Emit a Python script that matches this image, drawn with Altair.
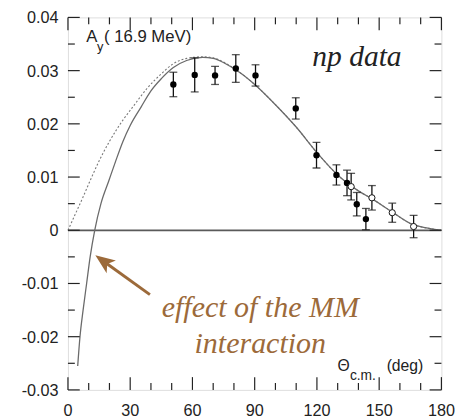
import altair as alt
import pandas as pd

# ---- data ----
filled_angle = [50.8, 61.1, 70.9, 80.9, 90.4, 109.8, 119.8, 129.4, 134.5, 139.2, 143.6]
filled_ay = [0.0274, 0.0292, 0.0291, 0.0304, 0.0291, 0.0229, 0.0141, 0.0104, 0.0089, 0.0049, 0.0021]
filled_err = [0.0023, 0.0032, 0.0017, 0.0026, 0.0020, 0.0020, 0.0024, 0.0019, 0.0024, 0.0022, 0.0020]

open_angle = [136.5, 146.5, 156.3, 166.6]
open_ay = [0.0082, 0.0061, 0.0033, 0.0007]
open_err = [0.0025, 0.0023, 0.0018, 0.0021]

solid_x = [4.7, 5.8, 7.3, 9.0, 10.7, 12.9, 15.9, 19.7, 23, 26.5, 30, 35.3, 40, 45, 50.8, 57.2,
           65, 70, 76, 83, 90, 100, 110, 120, 130, 140, 147, 156, 166, 172, 180]
solid_y = [-0.0255, -0.020, -0.015, -0.010, -0.005, 0.0, 0.005, 0.0093, 0.0130, 0.0167, 0.0197,
           0.0232, 0.0262, 0.0285, 0.0306, 0.0319, 0.0325, 0.0323, 0.0313, 0.0296, 0.0274, 0.0236,
           0.0194, 0.0146, 0.0104, 0.0074, 0.0058, 0.0035, 0.0011, 0.0005, 0.0]

dash_x = [0, 3.5, 7, 11, 15, 20, 26.5, 31.5, 38, 45, 50.8, 57.2, 65, 70, 76, 83,
          90, 100, 110, 120, 130, 140, 147, 156, 166, 172, 180]
dash_y = [0.0, 0.0030, 0.0060, 0.0096, 0.0130, 0.0167, 0.0207, 0.0233, 0.0266, 0.0294, 0.0313,
          0.0323, 0.0326, 0.0324, 0.0314, 0.0296, 0.0274, 0.0236, 0.0194, 0.0146, 0.0104, 0.0074,
          0.0058, 0.0035, 0.0011, 0.0005, 0.0]

x_major = [0, 30, 60, 90, 120, 150, 180]
x_minor = [10, 20, 40, 50, 70, 80, 100, 110, 130, 140, 160, 170]
y_major = [-0.03, -0.02, -0.01, 0.0, 0.01, 0.02, 0.03, 0.04]
y_minor = [-0.025, -0.015, -0.005, 0.005, 0.015, 0.025, 0.035]
x_labels = ["0", "30", "60", "90", "120", "150", "180"]
y_labels = ["-0.03", "-0.02", "-0.01", "0", "0.01", "0.02", "0.03", "0.04"]

# annotation anchors (data coordinates)
arrow_tail = (39.5, -0.0121)
arrow_head = (13.2, -0.0047)

W, H = 380, 379
BROWN = "#9c6a3a"
INK = "#222222"
xs = alt.Scale(domain=[0, 180], nice=False, zero=False)
ys = alt.Scale(domain=[-0.03, 0.04], nice=False, zero=False)

filled = pd.DataFrame({"x": filled_angle, "y": filled_ay,
                       "lo": [a - e for a, e in zip(filled_ay, filled_err)],
                       "hi": [a + e for a, e in zip(filled_ay, filled_err)]})
opened = pd.DataFrame({"x": open_angle, "y": open_ay,
                       "lo": [a - e for a, e in zip(open_ay, open_err)],
                       "hi": [a + e for a, e in zip(open_ay, open_err)]})
points = pd.concat([filled, opened], ignore_index=True)

X = lambda f="x": alt.X(f"{f}:Q", scale=xs, axis=None)
Y = lambda f="y": alt.Y(f"{f}:Q", scale=ys, axis=None)

zero_line = alt.Chart(pd.DataFrame({"y": [0.0]})).mark_rule(color="#5a5a5a", strokeWidth=1.8).encode(
    x=alt.value(0), x2=alt.value(W), y=Y())

# tick labels drawn as text through the scales
xlab = alt.Chart(pd.DataFrame({"x": x_major, "t": x_labels})).mark_text(
    font="Liberation Sans", fontSize=16.5, color=INK, align="center", baseline="alphabetic").encode(
    x=X(), y=alt.value(H + 27), text="t:N")
ylab = alt.Chart(pd.DataFrame({"y": y_major, "t": y_labels})).mark_text(
    font="Liberation Sans", fontSize=16.5, color=INK, align="right", baseline="middle", dy=1).encode(
    y=Y(), x=alt.value(-9.5), text="t:N")

solid = alt.Chart(pd.DataFrame({"x": solid_x, "y": solid_y})).mark_line(
    color="#6a6a6a", strokeWidth=1.3, interpolate="monotone").encode(x=X(), y=Y())
dashed = alt.Chart(pd.DataFrame({"x": dash_x, "y": dash_y})).mark_line(
    color="#777777", strokeWidth=1.1, strokeDash=[2, 2], interpolate="monotone").encode(x=X(), y=Y())

bars = alt.Chart(points).mark_rule(color="#111111", strokeWidth=1.3).encode(x=X(), y=Y("lo"), y2="hi:Q")
cap_lo = alt.Chart(points).mark_tick(color="#111111", orient="horizontal", size=8, thickness=1.3).encode(
    x=X(), y=Y("lo"))
cap_hi = alt.Chart(points).mark_tick(color="#111111", orient="horizontal", size=8, thickness=1.3).encode(
    x=X(), y=Y("hi"))
dots_f = alt.Chart(filled).mark_point(filled=True, color="#000000", size=42, opacity=1).encode(x=X(), y=Y())
dots_o = alt.Chart(opened).mark_point(filled=True, fill="white", stroke="#111111", strokeWidth=1,
                                      size=40, opacity=1).encode(x=X(), y=Y())

# inward ticks on all four sides
tick_color = "#222222"
def xticks(vals, length):
    d = pd.DataFrame({"x": vals})
    b = alt.Chart(d).mark_rule(color=tick_color, strokeWidth=1.2).encode(
        x=X(), y=alt.value(H), y2=alt.value(H - length))
    t = alt.Chart(d).mark_rule(color=tick_color, strokeWidth=1.2).encode(
        x=X(), y=alt.value(0), y2=alt.value(length))
    return [b, t]
def yticks(vals, length):
    d = pd.DataFrame({"y": vals})
    l = alt.Chart(d).mark_rule(color=tick_color, strokeWidth=1.2).encode(
        y=Y(), x=alt.value(0), x2=alt.value(length))
    r = alt.Chart(d).mark_rule(color=tick_color, strokeWidth=1.2).encode(
        y=Y(), x=alt.value(W), x2=alt.value(W - length))
    return [l, r]

ticks = xticks(x_major, 13) + xticks(x_minor, 7) + yticks(y_major, 12) + yticks(y_minor, 7)

def text(x, y, s, font, size, color=INK, style="normal", align="left"):
    return alt.Chart(pd.DataFrame({"x": [x], "y": [y], "t": [s]})).mark_text(
        font=font, fontSize=size, fontStyle=style, color=color, align=align,
        baseline="alphabetic").encode(x=X(), y=Y(), text="t:N")

labels = [
    text(8.8, 0.03532, "A", "Liberation Sans", 17),
    text(14.0, 0.03372, "y", "Liberation Sans", 13),
    text(17.4, 0.03532, "( 16.9 MeV)", "Liberation Sans", 17),
    text(117.8, 0.03089, "np data", "Liberation Serif", 30, style="italic"),
    text(92.7, -0.01625, "effect of the MM", "Liberation Serif", 30.5, color=BROWN, style="italic", align="center"),
    text(92.7, -0.02303, "interaction", "Liberation Serif", 30.5, color=BROWN, style="italic", align="center"),
    text(129.9, -0.02641, "\u0398", "Liberation Sans", 16),
    text(135.9, -0.02815, "c.m.", "Liberation Sans", 14),
    text(153.6, -0.02641, "(deg)", "Liberation Sans", 16),
]

# arrow: shaft + head
hx, hy = arrow_head
tx, ty = arrow_tail
f = 0.15
shaft = alt.Chart(pd.DataFrame({"x": [tx], "y": [ty], "x2": [hx + f * (tx - hx)], "y2": [hy + f * (ty - hy)]})
                  ).mark_rule(color=BROWN, strokeWidth=3).encode(x=X(), y=Y(), x2="x2:Q", y2="y2:Q")
head = alt.Chart(pd.DataFrame({"x": [hx], "y": [hy]})).mark_point(
    shape="M0,0 L-0.8,2 L0,1.5 L0.8,2 Z", filled=True, color=BROWN, opacity=1, size=400, angle=306
).encode(x=X(), y=Y())

chart = alt.layer(
    zero_line, dashed, solid, bars, cap_lo, cap_hi, dots_f, dots_o,
    *ticks, xlab, ylab, *labels, shaft, head
).properties(
    width=W, height=H,
    padding={"left": 61, "top": 6, "right": 24, "bottom": 25},
    autosize=alt.AutoSizeParams(type="none"),
).configure_view(stroke="#111111", strokeWidth=1.4).configure(background="white")

chart.save("out.html", embed_options={"renderer": "svg", "actions": False})
